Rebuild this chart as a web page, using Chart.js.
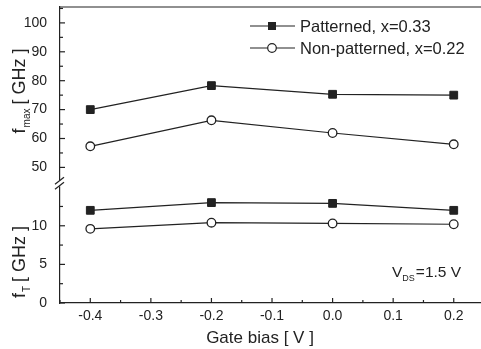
<!DOCTYPE html>
<html>
<head>
<meta charset="utf-8">
<script src="https://cdn.jsdelivr.net/npm/chart.js@4/dist/chart.umd.min.js"></script>
<style>
  body { margin: 0; background: #fff; }
  #chart { display: block; }
</style>
</head>
<body>
<canvas id="chart" width="481" height="349"></canvas>
<script>
// values
const gateBias = [-0.4, -0.2, 0.0, 0.2];
const fmaxPatterned = [70.0, 78.3, 75.3, 75.0];
const fmaxNonPatterned = [57.3, 66.3, 61.9, 58.0];
const ftPatterned = [12.0, 13.0, 12.9, 12.0];
const ftNonPatterned = [9.6, 10.4, 10.3, 10.2];
const seriesNames = ["Patterned, x=0.33", "Non-patterned, x=0.22"];

const ink = "#222";
const fontFam = "'Liberation Sans', Arial, sans-serif";

function pts(ys) {
    return gateBias.map(function(x, i) { return {x: x, y: ys[i]}; });
}

const squareStyle = {
    borderColor: ink, borderWidth: 1.2,
    pointStyle: "rect", pointRadius: 5.5, pointHoverRadius: 5.5,
    pointBackgroundColor: ink, pointBorderColor: ink, pointBorderWidth: 1
};
const circleStyle = {
    borderColor: ink, borderWidth: 1.2,
    pointStyle: "circle", pointRadius: 4.3, pointHoverRadius: 4.3,
    pointBackgroundColor: "#fff", pointBorderColor: ink, pointBorderWidth: 1.3
};

function fixWidth(s) {
    s.width = 60;
    s.paddingTop = 0;
    s.paddingBottom = 0;
}

// inward ticks, top frame, axis break, titles, legend, annotation
const decorations = {
    id: "decorations",
    afterDraw: function(chart) {
        const ctx = chart.ctx, a = chart.chartArea;
        const sx = chart.scales.x, st = chart.scales.yTop, sb = chart.scales.yBot;
        ctx.save();
        ctx.strokeStyle = ink;
        ctx.fillStyle = ink;
        ctx.lineWidth = 1.2;
        function line(x1, y1, x2, y2) {
            ctx.beginPath(); ctx.moveTo(x1, y1); ctx.lineTo(x2, y2); ctx.stroke();
        }
        line(a.left, a.top, a.right, a.top);

        for (let i = -9; i <= 4; i++) {
            const px = sx.getPixelForValue(i * 0.05);
            line(px, a.bottom, px, a.bottom - (i % 2 === 0 ? 5 : 3));
        }
        for (let v = 50; v <= 105; v += 5) {
            const py = st.getPixelForValue(v);
            line(a.left, py, a.left + (v % 10 === 0 ? 5 : 3), py);
        }
        for (let v = 0; v <= 12.5; v += 2.5) {
            const py = sb.getPixelForValue(v);
            line(a.left, py, a.left + (v % 5 === 0 ? 5 : 3), py);
        }

        // axis break
        const by = st.bottom;
        ctx.fillStyle = "#fff";
        ctx.fillRect(a.left - 3, by - 3, 6, 6);
        ctx.fillStyle = ink;
        line(a.left - 5, by + 1, a.left + 4, by - 6);
        line(a.left - 5, by + 6, a.left + 4, by - 1);

        // rotated y titles with subscripts
        function yTitle(cx, cy, sub) {
            const big = "18px " + fontFam, small = "10px " + fontFam;
            ctx.font = big; const wf = ctx.measureText("f").width;
            const wr = ctx.measureText(" [ GHz ]").width;
            ctx.font = small; const ws = ctx.measureText(sub).width;
            const total = wf + ws + wr;
            ctx.save();
            ctx.translate(cx, cy);
            ctx.rotate(-Math.PI / 2);
            ctx.textBaseline = "alphabetic";
            ctx.textAlign = "left";
            let x0 = -total / 2;
            ctx.font = big; ctx.fillText("f", x0, 0);
            ctx.font = small; ctx.fillText(sub, x0 + wf + 1, 5);
            ctx.font = big; ctx.fillText(" [ GHz ]", x0 + wf + ws, 0);
            ctx.restore();
        }
        yTitle(25, 91, "max");
        yTitle(25, 262, "T");

        // x title
        ctx.textAlign = "center";
        ctx.textBaseline = "middle";
        ctx.font = "17px " + fontFam;
        ctx.fillText("Gate bias [ V ]", 260, 338);

        // legend
        ctx.textBaseline = "middle";
        ctx.textAlign = "left";
        ctx.font = "16.5px " + fontFam;
        const rows = [26, 48];
        line(250, rows[0], 295, rows[0]);
        ctx.fillRect(268, rows[0] - 4, 8, 8);
        ctx.fillText(seriesNames[0], 300, rows[0] + 1);
        line(250, rows[1], 295, rows[1]);
        ctx.beginPath(); ctx.arc(272, rows[1], 4.3, 0, Math.PI * 2);
        ctx.fillStyle = "#fff"; ctx.fill(); ctx.stroke();
        ctx.fillStyle = ink;
        ctx.fillText(seriesNames[1], 300, rows[1] + 1);

        // V_DS annotation
        ctx.textBaseline = "alphabetic";
        ctx.font = "15.5px " + fontFam;
        ctx.fillText("V", 392, 277);
        const wv = ctx.measureText("V").width;
        ctx.font = "9px " + fontFam;
        ctx.fillText("DS", 392 + wv, 281);
        const wd = ctx.measureText("DS").width;
        ctx.font = "15.5px " + fontFam;
        ctx.fillText("=1.5 V", 392 + wv + wd + 1, 277);
        ctx.restore();
    }
};

new Chart(document.getElementById("chart"), {
    type: "line",
    data: {
        datasets: [
            Object.assign({label: seriesNames[0], data: pts(fmaxPatterned), yAxisID: "yTop"}, squareStyle),
            Object.assign({label: seriesNames[1], data: pts(fmaxNonPatterned), yAxisID: "yTop"}, circleStyle),
            Object.assign({label: seriesNames[0], data: pts(ftPatterned), yAxisID: "yBot"}, squareStyle),
            Object.assign({label: seriesNames[1], data: pts(ftNonPatterned), yAxisID: "yBot"}, circleStyle)
        ]
    },
    options: {
        responsive: false,
        animation: false,
        layout: { autoPadding: false, padding: { top: 7, right: 0, left: 0, bottom: 0 } },
        plugins: { legend: { display: false }, tooltip: { enabled: false } },
        scales: {
            x: {
                type: "linear",
                min: -0.45, max: 0.245,
                grid: { display: false, drawTicks: false, tickLength: 0 },
                border: { color: ink, width: 1.2 },
                ticks: {
                    stepSize: 0.1, includeBounds: false, color: ink, padding: 5,
                    maxRotation: 0,
                    font: { family: fontFam, size: 14 },
                    callback: function(v) { return v.toFixed(1); }
                },
                afterFit: function(s) {
                    s.height = 46;
                    s.paddingLeft = 0;
                    s.paddingRight = 0;
                }
            },
            // left stacked axes are laid out last-defined on top
            yBot: {
                type: "linear", position: "left", stack: "y", stackWeight: 119.5,
                min: 0, max: 15.5,
                grid: { display: false },
                border: { color: ink, width: 1.2 },
                ticks: {
                    stepSize: 5, includeBounds: false, color: ink, padding: 5,
                    font: { family: fontFam, size: 14 },
                    callback: function(v) { return v === 15 ? "" : v; }
                },
                afterFit: fixWidth
            },
            yTop: {
                type: "linear", position: "left", stack: "y", stackWeight: 176,
                min: 44.5, max: 105.5,
                grid: { display: false },
                border: { color: ink, width: 1.2 },
                ticks: {
                    stepSize: 10, includeBounds: false, color: ink, padding: 5,
                    font: { family: fontFam, size: 14 }
                },
                afterFit: fixWidth
            }
        }
    },
    plugins: [decorations]
});
</script>
</body>
</html>
